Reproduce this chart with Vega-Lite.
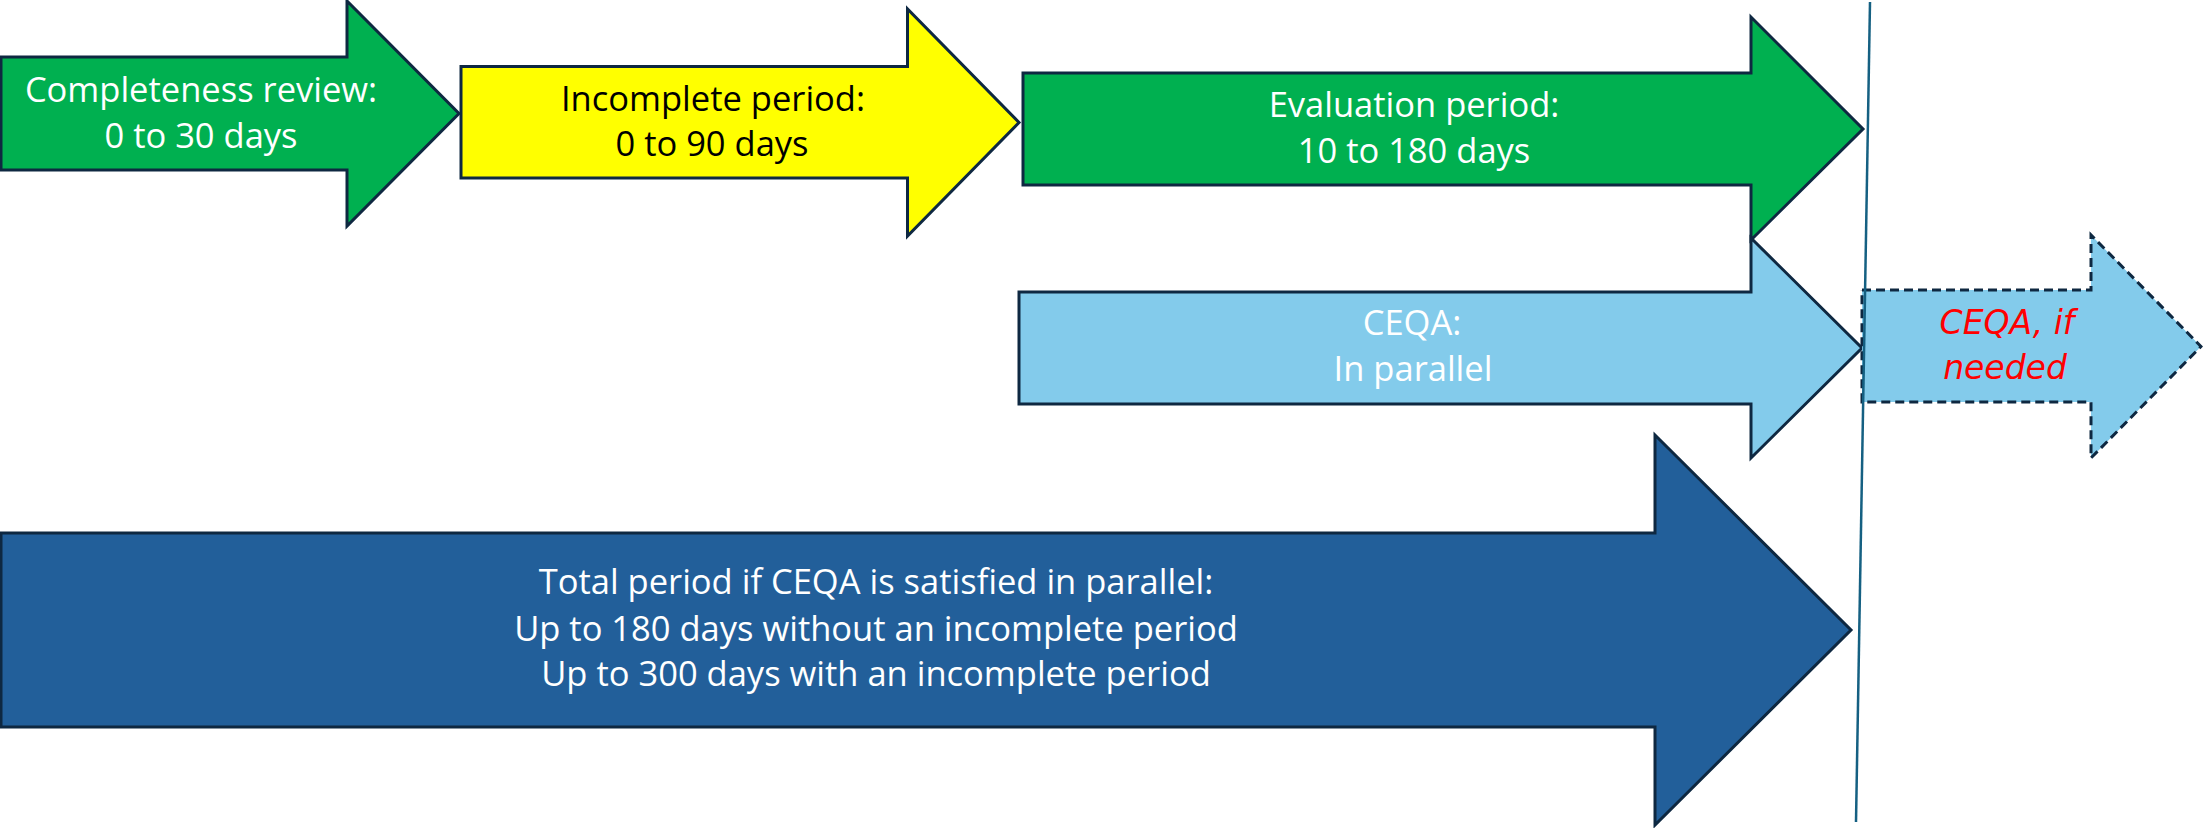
{
  "$schema": "https://vega.github.io/schema/vega-lite/v6.json",
  "width": 2203,
  "height": 828,
  "padding": 0,
  "autosize": {"type": "none"},
  "background": "white",
  "config": {"view": {"stroke": null}},
  "datasets": {
    "arrows": [
      {"arrow": "Completeness review", "i": 0, "x": 1, "y": 57},
      {"arrow": "Completeness review", "i": 1, "x": 347, "y": 57},
      {"arrow": "Completeness review", "i": 2, "x": 347, "y": 1},
      {"arrow": "Completeness review", "i": 3, "x": 459, "y": 113.5},
      {"arrow": "Completeness review", "i": 4, "x": 347, "y": 226},
      {"arrow": "Completeness review", "i": 5, "x": 347, "y": 170},
      {"arrow": "Completeness review", "i": 6, "x": 1, "y": 170},
      {"arrow": "Completeness review", "i": 7, "x": 1, "y": 57},
      {"arrow": "Completeness review", "i": 8, "x": 40, "y": 57},
      {"arrow": "Incomplete period", "i": 0, "x": 461, "y": 66.5},
      {"arrow": "Incomplete period", "i": 1, "x": 907.5, "y": 66.5},
      {"arrow": "Incomplete period", "i": 2, "x": 907.5, "y": 9},
      {"arrow": "Incomplete period", "i": 3, "x": 1019, "y": 122.5},
      {"arrow": "Incomplete period", "i": 4, "x": 907.5, "y": 236},
      {"arrow": "Incomplete period", "i": 5, "x": 907.5, "y": 178},
      {"arrow": "Incomplete period", "i": 6, "x": 461, "y": 178},
      {"arrow": "Incomplete period", "i": 7, "x": 461, "y": 66.5},
      {"arrow": "Incomplete period", "i": 8, "x": 500, "y": 66.5},
      {"arrow": "Evaluation period", "i": 0, "x": 1023, "y": 73},
      {"arrow": "Evaluation period", "i": 1, "x": 1751, "y": 73},
      {"arrow": "Evaluation period", "i": 2, "x": 1751, "y": 17},
      {"arrow": "Evaluation period", "i": 3, "x": 1863, "y": 129},
      {"arrow": "Evaluation period", "i": 4, "x": 1751, "y": 240},
      {"arrow": "Evaluation period", "i": 5, "x": 1751, "y": 185},
      {"arrow": "Evaluation period", "i": 6, "x": 1023, "y": 185},
      {"arrow": "Evaluation period", "i": 7, "x": 1023, "y": 73},
      {"arrow": "Evaluation period", "i": 8, "x": 1060, "y": 73},
      {"arrow": "CEQA", "i": 0, "x": 1019, "y": 292},
      {"arrow": "CEQA", "i": 1, "x": 1751, "y": 292},
      {"arrow": "CEQA", "i": 2, "x": 1751, "y": 238},
      {"arrow": "CEQA", "i": 3, "x": 1862, "y": 348},
      {"arrow": "CEQA", "i": 4, "x": 1751, "y": 458},
      {"arrow": "CEQA", "i": 5, "x": 1751, "y": 404},
      {"arrow": "CEQA", "i": 6, "x": 1019, "y": 404},
      {"arrow": "CEQA", "i": 7, "x": 1019, "y": 292},
      {"arrow": "CEQA", "i": 8, "x": 1060, "y": 292},
      {"arrow": "Total period", "i": 0, "x": 1, "y": 533},
      {"arrow": "Total period", "i": 1, "x": 1655, "y": 533},
      {"arrow": "Total period", "i": 2, "x": 1655, "y": 435},
      {"arrow": "Total period", "i": 3, "x": 1851, "y": 630},
      {"arrow": "Total period", "i": 4, "x": 1655, "y": 825},
      {"arrow": "Total period", "i": 5, "x": 1655, "y": 727},
      {"arrow": "Total period", "i": 6, "x": 1, "y": 727},
      {"arrow": "Total period", "i": 7, "x": 1, "y": 533},
      {"arrow": "Total period", "i": 8, "x": 40, "y": 533},
      {"arrow": "CEQA if needed", "i": 0, "x": 1862, "y": 290},
      {"arrow": "CEQA if needed", "i": 1, "x": 2091, "y": 290},
      {"arrow": "CEQA if needed", "i": 2, "x": 2091, "y": 235},
      {"arrow": "CEQA if needed", "i": 3, "x": 2201, "y": 346.5},
      {"arrow": "CEQA if needed", "i": 4, "x": 2091, "y": 458},
      {"arrow": "CEQA if needed", "i": 5, "x": 2091, "y": 402},
      {"arrow": "CEQA if needed", "i": 6, "x": 1862, "y": 402},
      {"arrow": "CEQA if needed", "i": 7, "x": 1862, "y": 290}
    ],
    "labels": [
      {"arrow": "Completeness review", "line": "Completeness review:", "x": 201, "y": 91.5},
      {"arrow": "Completeness review", "line": "0 to 30 days", "x": 201, "y": 137.5},
      {"arrow": "Incomplete period", "line": "Incomplete period:", "x": 713, "y": 101},
      {"arrow": "Incomplete period", "line": "0 to 90 days", "x": 712, "y": 146},
      {"arrow": "Evaluation period", "line": "Evaluation period:", "x": 1414, "y": 107},
      {"arrow": "Evaluation period", "line": "10 to 180 days", "x": 1414, "y": 153},
      {"arrow": "CEQA", "line": "CEQA:", "x": 1412, "y": 325},
      {"arrow": "CEQA", "line": "In parallel", "x": 1413, "y": 371},
      {"arrow": "Total period", "line": "Total period if CEQA is satisfied in parallel:", "x": 876, "y": 584},
      {"arrow": "Total period", "line": "Up to 180 days without an incomplete period", "x": 876, "y": 631},
      {"arrow": "Total period", "line": "Up to 300 days with an incomplete period", "x": 876, "y": 676},
      {"arrow": "CEQA if needed", "line": "CEQA, if", "x": 2007, "y": 323.5},
      {"arrow": "CEQA if needed", "line": "needed", "x": 2005, "y": 369}
    ],
    "divider": [
      {"x": 1870, "y": 2, "x2": 1856, "y2": 822}
    ]
  },
  "layer": [
    {
      "data": {"name": "arrows"},
      "transform": [{"filter": "datum.arrow !== 'CEQA if needed'"}],
      "mark": {"type": "line", "stroke": "#0E2841", "strokeWidth": 3, "strokeJoin": "miter", "interpolate": "linear"},
      "encoding": {
        "x": {"field": "x", "type": "quantitative", "axis": null, "scale": {"domain": [0, 2203], "nice": false, "zero": false}},
        "y": {"field": "y", "type": "quantitative", "axis": null, "scale": {"domain": [0, 828], "nice": false, "zero": false, "reverse": true}},
        "order": {"field": "i", "type": "quantitative"},
        "detail": {"field": "arrow", "type": "nominal"},
        "fill": {"field": "arrow", "type": "nominal", "legend": null,
          "scale": {"domain": ["Completeness review", "Incomplete period", "Evaluation period", "CEQA", "Total period", "CEQA if needed"],
                    "range": ["#00B050", "#FFFF00", "#00B050", "#83CBEB", "#225F9A", "#83CBEB"]}}
      }
    },
    {
      "data": {"name": "arrows"},
      "transform": [{"filter": "datum.arrow === 'CEQA if needed'"}],
      "mark": {"type": "line", "stroke": "#0E2841", "strokeWidth": 3, "strokeDash": [9, 5], "strokeJoin": "miter", "fill": "#83CBEB"},
      "encoding": {
        "x": {"field": "x", "type": "quantitative"},
        "y": {"field": "y", "type": "quantitative"},
        "order": {"field": "i", "type": "quantitative"}
      }
    },
    {
      "data": {"name": "divider"},
      "mark": {"type": "rule", "stroke": "#156082", "strokeWidth": 2.5},
      "encoding": {
        "x": {"field": "x", "type": "quantitative"},
        "y": {"field": "y", "type": "quantitative"},
        "x2": {"field": "x2"},
        "y2": {"field": "y2"}
      }
    },
    {
      "data": {"name": "labels"},
      "transform": [{"filter": "datum.arrow !== 'CEQA if needed'"}],
      "mark": {"type": "text", "font": "Open Sans", "fontSize": 34.5, "align": "center", "baseline": "middle"},
      "encoding": {
        "x": {"field": "x", "type": "quantitative"},
        "y": {"field": "y", "type": "quantitative"},
        "text": {"field": "line"},
        "color": {"field": "arrow", "type": "nominal", "legend": null,
          "scale": {"domain": ["Completeness review", "Incomplete period", "Evaluation period", "CEQA", "Total period"],
                    "range": ["#FFFFFF", "#000000", "#FFFFFF", "#FFFFFF", "#FFFFFF"]}}
      }
    },
    {
      "data": {"name": "labels"},
      "transform": [{"filter": "datum.arrow === 'CEQA if needed'"}],
      "mark": {"type": "text", "font": "DejaVu Sans", "fontSize": 33, "fontStyle": "italic", "align": "center", "baseline": "middle", "color": "#FF0000"},
      "encoding": {
        "x": {"field": "x", "type": "quantitative"},
        "y": {"field": "y", "type": "quantitative"},
        "text": {"field": "line"}
      }
    }
  ]
}
